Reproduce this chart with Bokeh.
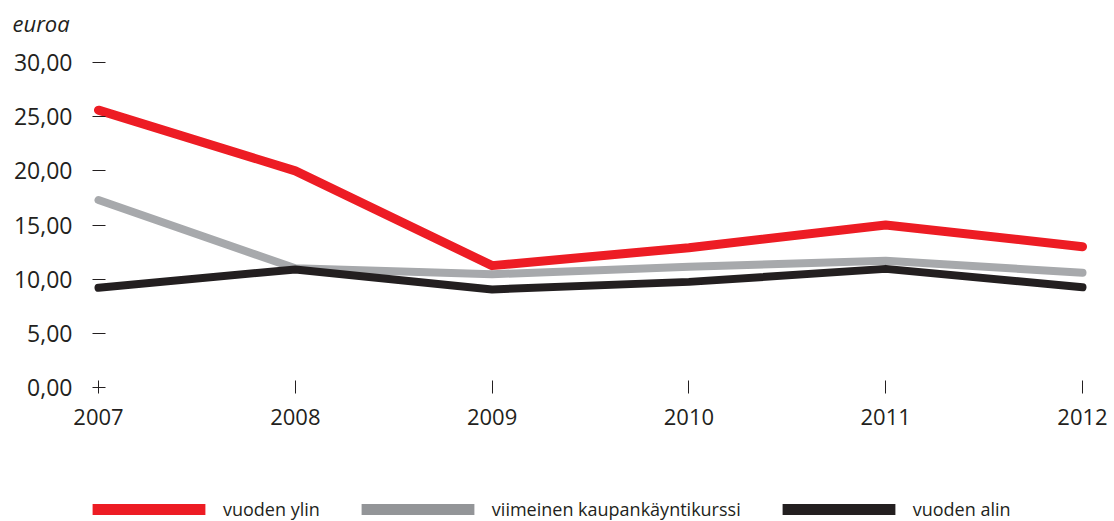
from bokeh.plotting import figure
from bokeh.models import (Range1d, FixedTicker, CustomJSTickFormatter, Legend,
                          LegendItem, Label)
from bokeh.embed import file_html
from bokeh.resources import INLINE

# ---- data ----
years = [2007, 2008, 2009, 2010, 2011, 2012]
vuoden_ylin = [25.6, 20.0, 11.25, 12.9, 15.0, 13.0]
viimeinen = [17.3, 11.0, 10.45, 11.15, 11.7, 10.6]
vuoden_alin = [9.2, 10.9, 9.05, 9.75, 10.95, 9.25]
y_ticks = [0, 5, 10, 15, 20, 25, 30]
series_names = ["vuoden ylin", "viimeinen kaupankäyntikurssi", "vuoden alin"]
unit_label = "euroa"

FONT = "Open Sans"
TXT = "#231F20"
RED = "#ED1C24"
GREY = "#A7A9AC"
GREY_LEG = "#939598"
BLACK = "#231F20"

W, H = 1114, 521
# layout: pixel position of first/last year and of the y range ends
X0_PX, X1_PX = 98.0, 1082.0
Y0_PX, Y30_PX = 387.0, 62.0
xs = (X1_PX - X0_PX) / (years[-1] - years[0])          # px per year
ys = (Y0_PX - Y30_PX) / (y_ticks[-1] - y_ticks[0])      # px per unit


def px2x(px):
    return years[0] + (px - X0_PX) / xs


def px2y(py):
    return y_ticks[0] + (Y0_PX - py) / ys


p = figure(width=W, height=H, output_backend="svg", toolbar_location=None,
           x_range=Range1d(px2x(0), px2x(W)),
           y_range=Range1d(px2y(H), px2y(0)),
           min_border_left=0, min_border_right=0, min_border_top=0,
           min_border_bottom=0)
p.outline_line_color = None
p.grid.visible = False
p.background_fill_color = "white"
p.border_fill_color = "white"

# y axis
ya = p.yaxis[0]
ya.fixed_location = years[0]
ya.ticker = FixedTicker(ticks=y_ticks)
ya.formatter = CustomJSTickFormatter(code="return tick.toFixed(2).replace('.', ',');")
ya.axis_line_color = None
ya.major_tick_in = 7
ya.major_tick_out = 6
ya.major_tick_line_color = TXT
ya.minor_tick_line_color = None
ya.major_label_standoff = 20
ya.major_label_text_font = FONT
ya.major_label_text_font_size = "23px"
ya.major_label_text_color = TXT

# x axis
xa = p.xaxis[0]
xa.fixed_location = y_ticks[0]
xa.ticker = FixedTicker(ticks=years)
xa.axis_line_color = None
xa.major_tick_in = 7
xa.major_tick_out = 6
xa.major_tick_line_color = TXT
xa.minor_tick_line_color = None
xa.major_label_standoff = 15
xa.major_label_text_font = FONT
xa.major_label_text_font_size = "22px"
xa.major_label_text_color = TXT

# unit label
p.add_layout(Label(x=px2x(12), y=px2y(22), text=unit_label, text_font=FONT,
                   text_font_style="italic", text_font_size="22px",
                   text_color=TXT, text_baseline="alphabetic"))

# lines
p.line(years, viimeinen, line_color=GREY, line_width=8, line_cap="round", line_join="round")
p.line(years, vuoden_alin, line_color=BLACK, line_width=8, line_cap="round", line_join="round")
p.line(years, vuoden_ylin, line_color=RED, line_width=9, line_cap="round", line_join="round")

# legend swatches (zero-size quads, only their legend glyph shows)
sw_colors = [RED, GREY_LEG, BLACK]
items = []
for name, c in zip(series_names, sw_colors):
    r = p.quad(left=[years[0]], right=[years[0]], top=[0], bottom=[0],
               fill_color=c, line_color=None)
    items.append(LegendItem(label=name, renderers=[r]))

# area legend glyphs are drawn inset by 10% on each side
legend = Legend(items=items, orientation="horizontal", location=(78, 0),
                glyph_width=141, glyph_height=14, label_standoff=4, spacing=27,
                padding=0, margin=0, border_line_color=None,
                background_fill_alpha=0, label_text_font=FONT,
                label_text_font_size="18px", label_text_color=TXT)
p.add_layout(legend)

open("out.html", "w").write(file_html(p, INLINE))
